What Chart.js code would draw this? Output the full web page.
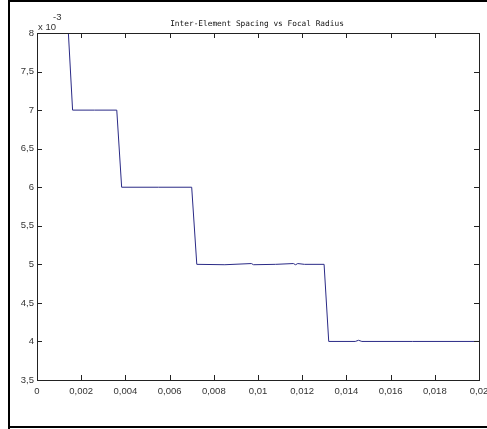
<!DOCTYPE html>
<html>
<head>
<meta charset="utf-8">
<script src="https://cdn.jsdelivr.net/npm/chart.js@4.4.1/dist/chart.umd.min.js"></script>
<style>
  html, body { margin: 0; padding: 0; background: #fff; }
  #wrap { width: 487px; height: 429px; }
</style>
</head>
<body>
<div id="wrap"><canvas id="chart" width="487" height="429"></canvas></div>
<script>
// focal radius (m) and element spacing (x 10^-3 m)
const focalRadius = [0.00142, 0.00161, 0.0026, 0.00361, 0.00383, 0.0055, 0.0070, 0.00723,
  0.0085, 0.0097, 0.0098, 0.0108, 0.0116, 0.0117, 0.0118, 0.0121, 0.01299, 0.0132,
  0.0144, 0.01455, 0.0147, 0.017, 0.02];
const spacing = [8.0, 7.0, 7.0, 7.0, 6.0, 6.0, 6.0, 5.0,
  4.995, 5.01, 4.995, 5.0, 5.01, 4.995, 5.01, 5.0, 5.0, 4.0,
  4.0, 4.015, 4.0, 4.0, 4.0];

const xTicks = [0, 0.002, 0.004, 0.006, 0.008, 0.01, 0.012, 0.014, 0.016, 0.018, 0.02];
const yTicks = [3.5, 4, 4.5, 5, 5.5, 6, 6.5, 7, 7.5, 8];

const titleText = "Inter-Element Spacing vs Focal Radius";

// comma decimal separator on the tick labels
const fmt = v => String(+v.toFixed(4)).replace(".", ",");

// frame, box, inward ticks, title and the exponent label
const matlabAxes = {
  id: "matlabAxes",
  afterDraw(chart) {
    const ctx = chart.ctx;
    const a = chart.chartArea;
    const xs = chart.scales.x, ys = chart.scales.y;
    ctx.save();
    // outer figure border
    ctx.strokeStyle = "#000";
    ctx.lineWidth = 2;
    ctx.beginPath();
    ctx.moveTo(9, 429);
    ctx.lineTo(9, 1);
    ctx.lineTo(487, 1);
    ctx.moveTo(9, 427);
    ctx.lineTo(487, 427);
    ctx.stroke();
    // axes box
    ctx.lineWidth = 1;
    ctx.strokeStyle = "#222";
    ctx.strokeRect(Math.round(a.left) + 0.5, Math.round(a.top) + 0.5,
      Math.round(a.right - a.left), Math.round(a.bottom - a.top));
    // ticks pointing into the plot, on all four sides
    ctx.beginPath();
    const len = 5;
    xTicks.forEach(v => {
      const px = Math.round(xs.getPixelForValue(v)) + 0.5;
      ctx.moveTo(px, a.bottom); ctx.lineTo(px, a.bottom - len);
      ctx.moveTo(px, a.top); ctx.lineTo(px, a.top + len);
    });
    yTicks.forEach(v => {
      const py = Math.round(ys.getPixelForValue(v)) + 0.5;
      ctx.moveTo(a.left, py); ctx.lineTo(a.left + len, py);
      ctx.moveTo(a.right, py); ctx.lineTo(a.right - len, py);
    });
    ctx.stroke();
    // title
    ctx.fillStyle = "#111";
    ctx.font = "7.8px 'DejaVu Sans Mono'";
    ctx.textAlign = "center";
    ctx.textBaseline = "alphabetic";
    ctx.fillText(titleText, 257, 26);
    // x 10^-3
    ctx.font = "9.5px 'Liberation Sans'";
    ctx.textAlign = "left";
    ctx.fillStyle = "#333";
    ctx.fillText("x 10", a.left + 1, 30);
    ctx.fillText("-3", a.left + 16, 20);
    ctx.restore();
  }
};

new Chart(document.getElementById("chart"), {
  type: "line",
  data: {
    datasets: [{
      data: focalRadius.map((x, i) => ({ x: x, y: spacing[i] })),
      borderColor: "#2a2a86",
      borderWidth: 1,
      pointRadius: 0,
      tension: 0,
      fill: false,
    }],
  },
  options: {
    responsive: false,
    animation: false,
    layout: { autoPadding: false, padding: { left: 0, top: 33, right: 8, bottom: 28 } },
    plugins: {
      legend: { display: false },
      tooltip: { enabled: false },
      title: { display: false },
    },
    scales: {
      x: {
        type: "linear",
        min: 0,
        max: 0.02,
        afterBuildTicks: s => { s.ticks = xTicks.map(v => ({ value: v })); },
        // fixed height, and no extra room for the end labels
        afterFit: s => { s.height = 21; s.paddingLeft = 0; s.paddingRight = 0; },
        grid: { display: false, drawTicks: false },
        border: { display: false },
        ticks: {
          callback: v => fmt(v),
          color: "#333",
          font: { family: "Liberation Sans", size: 9.5 },
          padding: 6,
          maxRotation: 0,
          autoSkip: false,
        },
      },
      y: {
        type: "linear",
        min: 3.5,
        max: 8,
        afterBuildTicks: s => { s.ticks = yTicks.map(v => ({ value: v })); },
        afterFit: s => { s.width = 37; s.paddingTop = 0; s.paddingBottom = 0; },
        grid: { display: false, drawTicks: false },
        border: { display: false },
        ticks: {
          callback: v => fmt(v),
          color: "#333",
          font: { family: "Liberation Sans", size: 9.5 },
          padding: 3,
          autoSkip: false,
        },
      },
    },
  },
  plugins: [matlabAxes],
});
</script>
</body>
</html>
